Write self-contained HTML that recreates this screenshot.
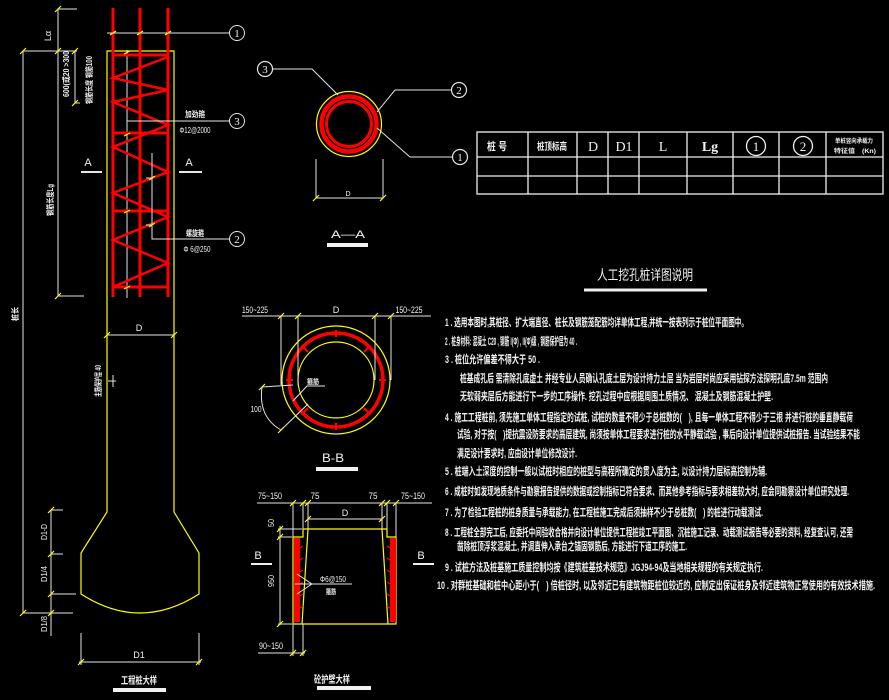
<!DOCTYPE html>
<html><head><meta charset="utf-8">
<style>
html,body{margin:0;padding:0;background:#000;}
svg{display:block}
text{font-family:"Liberation Sans","Noto Sans CJK SC",sans-serif;fill:#f2f2f2;}
.w{stroke:#e6e6e6;stroke-width:1;fill:none}
.y{stroke:#ffff00;stroke-width:1.2;fill:none}
.r{stroke:#ff0000;fill:none}
.b{font-weight:bold}
.sf{font-family:"Liberation Serif",serif;}
</style></head><body>
<svg width="889" height="700" viewBox="0 0 889 700" xmlns="http://www.w3.org/2000/svg">
<rect width="889" height="700" fill="#000"/>

<!-- ===== Pile elevation ===== -->
<path class="y" d="M107,512 L107,51 L174,51 L174,512 L199,553 L199,594 Q140,632 81,594 L81,553 Z"/>
<line class="w" x1="127" y1="50" x2="127" y2="298"/>
<g class="r" stroke-width="3">
<line x1="113" y1="8" x2="113" y2="297"/>
<line x1="140" y1="8" x2="140" y2="297"/>
<line x1="168" y1="8" x2="168" y2="297"/>
<line x1="113" y1="55" x2="168" y2="55"/>
<line x1="113" y1="133" x2="168" y2="133"/>
<line x1="113" y1="211" x2="168" y2="211"/>
<line x1="113" y1="287" x2="168" y2="287"/>
</g>
<polyline class="r" stroke-width="2.5" points="168,57 113,78 168,90 113,102 168,125 113,147 168,172 113,193 168,217 113,240 168,263 113,287"/>
<line class="w" x1="107" y1="33" x2="230" y2="33"/>
<line class="w" x1="127" y1="121" x2="230" y2="121"/>
<polyline class="w" points="152,153 152,239 230,239"/>
<g class="y" stroke-width="1.3">
<path d="M110,35 L116,31 M137,35 L143,31 M165,35 L171,31"/>
<path d="M124,54 L130,51 M124,136 L130,133 M124,213 L130,210 M124,289 L130,286"/>
<path d="M149,180 L155,176 M149,227 L155,223"/>
</g>
<line class="w" x1="146" y1="178" x2="152" y2="178"/>
<line class="w" x1="146" y1="225" x2="152" y2="225"/>
<g class="w" stroke-width="1.2">
<circle cx="237" cy="33" r="7.5"/>
<circle cx="237" cy="121" r="7.5"/>
<circle cx="237" cy="239" r="7.5"/>
</g>
<text x="237" y="37" font-size="11" text-anchor="middle" class="sf">1</text>
<text x="237" y="125" font-size="11" text-anchor="middle" class="sf">3</text>
<text x="237" y="243" font-size="11" text-anchor="middle" class="sf">2</text>
<text x="195" y="117" font-size="8" text-anchor="middle" class="b" textLength="20" lengthAdjust="spacingAndGlyphs">加劲箍</text>
<text x="195" y="133" font-size="8" text-anchor="middle" textLength="31" lengthAdjust="spacingAndGlyphs">Φ12@2000</text>
<text x="195" y="236" font-size="8" text-anchor="middle" class="b" textLength="18" lengthAdjust="spacingAndGlyphs">螺旋箍</text>
<text x="197" y="252" font-size="8" text-anchor="middle" textLength="27" lengthAdjust="spacingAndGlyphs">Φ 6@250</text>
<text x="88" y="166" font-size="11" text-anchor="middle">A</text>
<line x1="81" y1="172" x2="102" y2="172" stroke="#e6e6e6" stroke-width="2"/>
<text x="189" y="166" font-size="11" text-anchor="middle">A</text>
<line x1="179" y1="172" x2="202" y2="172" stroke="#e6e6e6" stroke-width="2"/>
<g class="w">
<line x1="58" y1="9" x2="58" y2="296"/>
<line x1="58" y1="9" x2="77" y2="9"/>
<line x1="23" y1="51" x2="77" y2="51"/>
<line x1="58" y1="296" x2="84" y2="296"/>
<line x1="75" y1="51" x2="75" y2="103"/>
<line x1="75" y1="103" x2="80" y2="103"/>
<line x1="23" y1="51" x2="23" y2="613"/>
<line x1="51" y1="510" x2="51" y2="636"/>
<line x1="51" y1="510" x2="63" y2="510"/>
<line x1="51" y1="554" x2="63" y2="554"/>
<line x1="51" y1="594" x2="76" y2="594"/>
<line x1="23" y1="613" x2="73" y2="613"/>
<line x1="107" y1="335" x2="174" y2="335"/>
<line x1="81" y1="633" x2="81" y2="665"/>
<line x1="199" y1="633" x2="199" y2="665"/>
<line x1="79" y1="662" x2="201" y2="662"/>
<line x1="113" y1="375" x2="113" y2="387"/>
<line x1="108" y1="381" x2="116" y2="381"/>
</g>
<g class="y" stroke-width="1.3">
<path d="M55,12 L61,6 M55,54 L61,48 M20,54 L26,48 M72,54 L78,48 M55,299 L61,293 M72,106 L78,100"/>
<path d="M104,338 L110,332 M171,338 L177,332 M48,513 L54,507 M48,557 L54,551 M48,597 L54,591 M20,616 L26,610 M48,616 L54,610 M78,665 L84,659 M196,665 L202,659"/>
</g>
<text transform="translate(51,36) rotate(-90)" font-size="9" text-anchor="middle">Lα</text>
<text transform="translate(69,74) rotate(-90)" font-size="8" text-anchor="middle" class="b" textLength="46" lengthAdjust="spacingAndGlyphs">600(或20 &gt;300</text>
<text transform="translate(92,80) rotate(-90)" font-size="8" text-anchor="middle" class="b" textLength="48" lengthAdjust="spacingAndGlyphs">钢筋长度 钢筋100</text>
<text transform="translate(53,200) rotate(-90)" font-size="8" text-anchor="middle" class="b" textLength="32" lengthAdjust="spacingAndGlyphs">钢筋长度Lg</text>
<text transform="translate(18,314) rotate(-90)" font-size="8" text-anchor="middle" class="b" textLength="14" lengthAdjust="spacingAndGlyphs">桩长</text>
<text transform="translate(101,381) rotate(-90)" font-size="8" text-anchor="middle" class="b" textLength="32" lengthAdjust="spacingAndGlyphs">主筋保护层 40</text>
<text transform="translate(47,532) rotate(-90)" font-size="8" text-anchor="middle" textLength="16" lengthAdjust="spacingAndGlyphs">D1-D</text>
<text transform="translate(47,574) rotate(-90)" font-size="8" text-anchor="middle" textLength="16" lengthAdjust="spacingAndGlyphs">D1/4</text>
<text transform="translate(47,624) rotate(-90)" font-size="8" text-anchor="middle" textLength="16" lengthAdjust="spacingAndGlyphs">D1/8</text>
<text x="139" y="331" font-size="9" text-anchor="middle">D</text>
<text x="139" y="658" font-size="9" text-anchor="middle">D1</text>
<text x="139" y="684" font-size="10" text-anchor="middle" class="b" textLength="36" lengthAdjust="spacingAndGlyphs">工程桩大样</text>
<line x1="113" y1="690" x2="166" y2="690" stroke="#f0f0f0" stroke-width="4"/>

<!-- ===== A-A section ===== -->
<circle cx="349" cy="124" r="32.5" class="y"/>
<circle cx="349" cy="124" r="27.5" class="r" stroke-width="4.5"/>
<circle cx="349" cy="124" r="22.5" class="r" stroke-width="3"/>
<g class="w">
<polyline points="272,69 312,69 338,95"/>
<polyline points="452,90 395,90 377,112"/>
<polyline points="453,157 410,157 377,128"/>
<line x1="316" y1="159" x2="316" y2="198"/>
<line x1="383" y1="159" x2="383" y2="198"/>
<line x1="316" y1="198" x2="383" y2="198"/>
<circle cx="265" cy="69" r="7.5" stroke-width="1.2"/>
<circle cx="459" cy="90" r="7.5" stroke-width="1.2"/>
<circle cx="460" cy="157" r="7.5" stroke-width="1.2"/>
</g>
<path class="y" d="M313,201 L319,195 M380,201 L386,195"/>
<text x="265" y="73" font-size="11" text-anchor="middle" class="sf">3</text>
<text x="459" y="94" font-size="11" text-anchor="middle" class="sf">2</text>
<text x="460" y="161" font-size="11" text-anchor="middle" class="sf">1</text>
<text x="348" y="196" font-size="7" text-anchor="middle">D</text>
<text x="348" y="238" font-size="11" text-anchor="middle" textLength="34" lengthAdjust="spacingAndGlyphs">A—A</text>
<line x1="327" y1="245" x2="368" y2="245" stroke="#f0f0f0" stroke-width="4"/>

<!-- ===== Table ===== -->
<g stroke="#f0f0f0" stroke-width="1.3" fill="none">
<rect x="477" y="132" width="406" height="62"/>
<line x1="477" y1="157" x2="883" y2="157"/>
<line x1="477" y1="176" x2="883" y2="176"/>
<line x1="528" y1="132" x2="528" y2="194"/>
<line x1="577" y1="132" x2="577" y2="194"/>
<line x1="608" y1="132" x2="608" y2="194"/>
<line x1="639" y1="132" x2="639" y2="194"/>
<line x1="687" y1="132" x2="687" y2="194"/>
<line x1="733" y1="132" x2="733" y2="194"/>
<line x1="779" y1="132" x2="779" y2="194"/>
<line x1="826" y1="132" x2="826" y2="194"/>
<circle cx="756" cy="146" r="9.5"/>
<circle cx="803" cy="146" r="9.5"/>
</g>
<text x="497" y="150" font-size="11" text-anchor="middle" class="b" textLength="20" lengthAdjust="spacingAndGlyphs">桩 号</text>
<text x="552" y="150" font-size="10" text-anchor="middle" class="b" textLength="30" lengthAdjust="spacingAndGlyphs">桩顶标高</text>
<text x="593" y="151" font-size="14" text-anchor="middle" class="sf">D</text>
<text x="624" y="151" font-size="14" text-anchor="middle" class="sf">D1</text>
<text x="663" y="151" font-size="14" text-anchor="middle" class="sf">L</text>
<text x="710" y="151" font-size="14" text-anchor="middle" class="sf b">Lg</text>
<text x="756" y="151" font-size="13" text-anchor="middle" class="sf">1</text>
<text x="803" y="151" font-size="13" text-anchor="middle" class="sf">2</text>
<text x="854" y="143" font-size="6" text-anchor="middle" class="b" textLength="38" lengthAdjust="spacingAndGlyphs">单桩竖向承载力</text>
<text x="855" y="153" font-size="6" text-anchor="middle" class="b" textLength="42" lengthAdjust="spacingAndGlyphs">特征值　(Kn)</text>

<!-- ===== Notes ===== -->
<text x="645" y="280" font-size="14" text-anchor="middle" textLength="96" lengthAdjust="spacingAndGlyphs">人工挖孔桩详图说明</text>
<line x1="584" y1="290" x2="707" y2="290" stroke="#f0f0f0" stroke-width="3"/>
<g font-size="11" font-weight="bold">
<text x="445" y="326" class="b" textLength="303" lengthAdjust="spacingAndGlyphs">1 . 选用本图时,其桩径、扩大端直径、桩长及钢筋笼配筋均详单体工程,并统一按表列示于桩位平面图中。</text>
<text x="445" y="345" class="b" textLength="132" lengthAdjust="spacingAndGlyphs">2 . 桩身材料: 混凝土 C20 , 钢筋 I(Φ) , II(Φ)级 , 钢筋保护层为 40 .</text>
<text x="445" y="363" class="b" textLength="95" lengthAdjust="spacingAndGlyphs">3 . 桩位允许偏差不得大于 50 .</text>
<text x="460" y="382" class="b" textLength="368" lengthAdjust="spacingAndGlyphs">桩基成孔后 需清除孔底虚土 并经专业人员确认孔底土层为设计持力土层 当为岩层时尚应采用钻探方法探明孔底7.5m 范围内</text>
<text x="460" y="400" class="b" textLength="313" lengthAdjust="spacingAndGlyphs">无软弱夹层后方能进行下一步的工序操作. 挖孔过程中应根据周围土质情况、 混凝土及钢筋混凝土护壁.</text>
<text x="445" y="421" class="b" textLength="408" lengthAdjust="spacingAndGlyphs">4 . 施工工程桩前, 须先施工单体工程指定的试桩, 试桩的数量不得少于总桩数的(　), 且每一单体工程不得少于三根 并进行桩的垂直静载荷</text>
<text x="457" y="438" class="b" textLength="403" lengthAdjust="spacingAndGlyphs">试验, 对于按(　)提抗震设防要求的高层建筑, 尚须按单体工程要求进行桩的水平静载试验 , 事后向设计单位提供试桩报告. 当试验结果不能</text>
<text x="457" y="457" class="b" textLength="120" lengthAdjust="spacingAndGlyphs">满足设计要求时, 应由设计单位修改设计.</text>
<text x="445" y="475" class="b" textLength="322" lengthAdjust="spacingAndGlyphs">5 . 桩端入土深度的控制一般以试桩时相应的桩型与高程所确定的贯入度为主, 以设计持力层标高控制为辅.</text>
<text x="445" y="495" class="b" textLength="404" lengthAdjust="spacingAndGlyphs">6 . 成桩时如发现地质条件与勘察报告提供的数据或控制指标已符合要求、而其他参考指标与要求相差较大时, 应会同勘察设计单位研究处理.</text>
<text x="445" y="516" class="b" textLength="318" lengthAdjust="spacingAndGlyphs">7 . 为了检验工程桩的桩身质量与承载能力, 在工程桩施工完成后须抽样不少于总桩数(　) 的桩进行动载测试.</text>
<text x="445" y="536" class="b" textLength="408" lengthAdjust="spacingAndGlyphs">8 . 工程桩全部完工后, 应委托中间验收合格并向设计单位提供工程桩竣工平面图、沉桩施工记录、动载测试报告等必要的资料, 经复查认可, 还需</text>
<text x="457" y="550" class="b" textLength="230" lengthAdjust="spacingAndGlyphs">凿除桩顶浮浆混凝土, 并调直伸入承台之锚固钢筋后, 方能进行下道工序的施工.</text>
<text x="445" y="571" class="b" textLength="318" lengthAdjust="spacingAndGlyphs">9 . 试桩方法及桩基施工质量控制均按《建筑桩基技术规范》JGJ94-94及当地相关规程的有关规定执行.</text>
<text x="437" y="589" class="b" textLength="438" lengthAdjust="spacingAndGlyphs">10 . 对群桩基础和桩中心距小于(　) 倍桩径时, 以及邻近已有建筑物距桩位较近的, 应制定出保证桩身及邻近建筑物正常使用的有效技术措施.</text>
</g>

<!-- ===== B-B section ===== -->
<circle cx="336" cy="380" r="54" class="y"/>
<circle cx="336" cy="380" r="38" class="y"/>
<circle cx="336" cy="380" r="47" class="r" stroke-width="3.5"/>
<g class="r" stroke-width="2">
<path d="M336,330 L336,337 M336,423 L336,430 M286,380 L293,380 M379,380 L386,380 M303,347 L308,352 M364,408 L369,413 M369,347 L364,352 M303,413 L308,408"/>
</g>
<g class="w">
<line x1="242" y1="316" x2="431" y2="316"/>
<line x1="281" y1="316" x2="281" y2="385"/>
<line x1="298" y1="316" x2="298" y2="385"/>
<line x1="375" y1="316" x2="375" y2="380"/>
<line x1="391" y1="316" x2="391" y2="380"/>
<path d="M262,387 Q258,417 281,430"/>
<line x1="262" y1="387" x2="293" y2="385"/>
<line x1="281" y1="430" x2="308" y2="404"/>
<polyline points="293,401 307,386 325,386"/>
</g>
<path class="y" d="M278,319 L284,313 M295,319 L301,313 M372,319 L378,313 M388,319 L394,313 M259,390 L265,384 M278,433 L284,427"/>
<text x="255" y="313" font-size="9" text-anchor="middle" textLength="26" lengthAdjust="spacingAndGlyphs">150~225</text>
<text x="336" y="313" font-size="9" text-anchor="middle">D</text>
<text x="409" y="313" font-size="9" text-anchor="middle" textLength="27" lengthAdjust="spacingAndGlyphs">150~225</text>
<text x="256" y="412" font-size="8" text-anchor="middle" textLength="11" lengthAdjust="spacingAndGlyphs">100</text>
<text x="313" y="384" font-size="7" text-anchor="middle" class="b" textLength="12" lengthAdjust="spacingAndGlyphs">箍筋</text>
<text x="333" y="462" font-size="12" text-anchor="middle" textLength="22" lengthAdjust="spacingAndGlyphs">B-B</text>
<line x1="316" y1="469" x2="358" y2="469" stroke="#f0f0f0" stroke-width="4"/>

<!-- ===== Protection wall detail ===== -->
<path class="y" d="M303,529 L387,529 L387,537 L396,537 L396,624 L293,624 L293,537 L303,537 Z"/>
<line class="y" x1="308" y1="529" x2="302" y2="624"/>
<line class="y" x1="382" y1="529" x2="388" y2="624"/>
<rect x="294" y="538" width="6" height="84" fill="#ff0000"/>
<rect x="390" y="538" width="6" height="84" fill="#ff0000"/>
<g class="r" stroke-width="1.2">
<path d="M300,548 L303,546 M300,560 L303,558 M300,572 L303,570 M300,584 L303,582 M300,596 L303,594 M300,608 L303,606"/>
<path d="M390,548 L387,546 M390,560 L387,558 M390,572 L387,570 M390,584 L387,582 M390,596 L387,594 M390,608 L387,606"/>
</g>
<g class="w">
<line x1="257" y1="503" x2="432" y2="503"/>
<line x1="293" y1="503" x2="293" y2="537"/>
<line x1="303" y1="503" x2="303" y2="529"/>
<line x1="308" y1="503" x2="308" y2="529"/>
<line x1="382" y1="503" x2="382" y2="529"/>
<line x1="387" y1="503" x2="387" y2="529"/>
<line x1="396" y1="503" x2="396" y2="537"/>
<line x1="308" y1="519" x2="382" y2="519"/>
<line x1="280" y1="526" x2="280" y2="625"/>
<line x1="278" y1="529" x2="302" y2="529"/>
<line x1="278" y1="537" x2="292" y2="537"/>
<line x1="278" y1="624" x2="292" y2="624"/>
<line x1="295" y1="584" x2="352" y2="584"/>
<line x1="297" y1="574" x2="312" y2="584"/>
<line x1="297" y1="594" x2="312" y2="584"/>
<line x1="258" y1="653" x2="305" y2="653"/>
<line x1="293" y1="624" x2="293" y2="656"/>
<line x1="303" y1="624" x2="303" y2="656"/>
</g>
<path class="y" d="M290,506 L296,500 M300,506 L306,500 M305,506 L311,500 M379,506 L385,500 M384,506 L390,500 M393,506 L399,500 M305,522 L311,516 M379,522 L385,516 M277,532 L283,526 M277,540 L283,534 M277,627 L283,621 M290,656 L296,650 M300,656 L306,650"/>
<text x="270" y="499" font-size="9" text-anchor="middle" textLength="24" lengthAdjust="spacingAndGlyphs">75~150</text>
<text x="315" y="499" font-size="9" text-anchor="middle" textLength="9" lengthAdjust="spacingAndGlyphs">75</text>
<text x="373" y="499" font-size="9" text-anchor="middle" textLength="9" lengthAdjust="spacingAndGlyphs">75</text>
<text x="413" y="499" font-size="9" text-anchor="middle" textLength="24" lengthAdjust="spacingAndGlyphs">75~150</text>
<text x="345" y="516" font-size="9" text-anchor="middle">D</text>
<text transform="translate(274,523) rotate(-90)" font-size="8" text-anchor="middle" textLength="8" lengthAdjust="spacingAndGlyphs">50</text>
<text transform="translate(274,581) rotate(-90)" font-size="8" text-anchor="middle" textLength="12" lengthAdjust="spacingAndGlyphs">950</text>
<text x="258" y="559" font-size="11" text-anchor="middle">B</text>
<line x1="251" y1="564" x2="272" y2="564" stroke="#f0f0f0" stroke-width="2"/>
<text x="421" y="559" font-size="11" text-anchor="middle">B</text>
<line x1="413" y1="564" x2="434" y2="564" stroke="#f0f0f0" stroke-width="2"/>
<text x="333" y="582" font-size="8" text-anchor="middle" textLength="26" lengthAdjust="spacingAndGlyphs">Φ6@150</text>
<text x="331" y="594" font-size="7" text-anchor="middle" class="b" textLength="10" lengthAdjust="spacingAndGlyphs">箍筋</text>
<text x="271" y="649" font-size="9" text-anchor="middle" textLength="24" lengthAdjust="spacingAndGlyphs">90~150</text>
<text x="332" y="683" font-size="10" text-anchor="middle" class="b" textLength="36" lengthAdjust="spacingAndGlyphs">砼护壁大样</text>
<line x1="317" y1="688" x2="371" y2="688" stroke="#f0f0f0" stroke-width="4"/>
</svg>
</body></html>
